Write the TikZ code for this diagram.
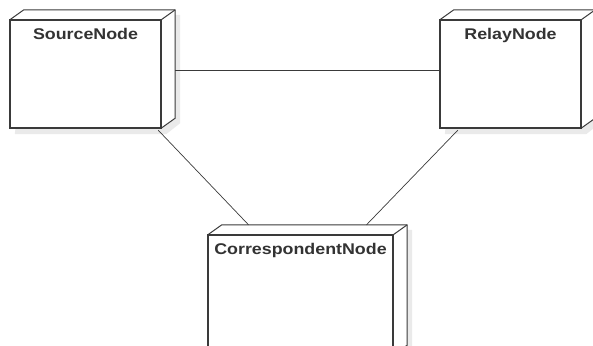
\documentclass[tikz,border=0pt]{standalone}
\usepackage{fontspec}
\usepackage{tikz}
\usetikzlibrary{positioning,calc}
\newfontfamily\umlfont[FakeStretch=1.15]{Liberation Sans}
\definecolor{edgegray}{HTML}{3A3A3A}
\definecolor{shadowgray}{HTML}{EAEAEA}
\definecolor{titlegray}{HTML}{333333}

\tikzset{
  umlbox/.style={draw=edgegray, line width=1.3pt, fill=white, inner sep=0pt},
  umledge/.style={draw=edgegray, line width=1pt, fill=white, line join=round},
  umltitle/.style={anchor=north, inner sep=0pt, yshift=-9pt, text=titlegray,
    font=\umlfont\bfseries\fontsize{15.5}{17}\selectfont},
  wire/.style={draw=edgegray, line width=0.7pt}
}

% 3d side and top of a node, dx=14 dy=10
\newcommand\nodedepth[1]{
  \fill[shadowgray] ($(#1.north west)+(19,5)$) -- ($(#1.north east)+(19,5)$)
    -- ($(#1.south east)+(19,5)$) -- ($(#1.south east)+(5,-6)$)
    -- ($(#1.south west)+(5,-6)$) -- cycle;
  \draw[umledge] (#1.north west) -- ++(14,10) -- ($(#1.north east)+(14,10)$)
    -- ($(#1.south east)+(14,10)$) -- (#1.south east) -- (#1.north east) -- cycle;
  \draw[umledge] (#1.north east) -- ++(14,10);
}

\begin{document}
\begin{tikzpicture}[x=1pt,y=1pt]
    \clip (0,0) rectangle (593,345);

    \coordinate (srcpos) at (85.5,271);
    \coordinate (relaypos) at (510.5,271);
    \coordinate (corrpos) at (300.5,50);

    % shadows and depth first, fronts on top
    \node[minimum width=151pt, minimum height=108pt, inner sep=0pt] (src) at (srcpos) {};
    \node[minimum width=141pt, minimum height=108pt, inner sep=0pt] (relay) at (relaypos) {};
    \node[minimum width=185pt, minimum height=120pt, inner sep=0pt] (corr) at (corrpos) {};
    \nodedepth{src}
    \nodedepth{relay}
    \nodedepth{corr}

    \node[umlbox, minimum width=151pt, minimum height=108pt,
      label={[umltitle]north:SourceNode}] at (srcpos) {};
    \node[umlbox, minimum width=141pt, minimum height=108pt,
      label={[umltitle]north:RelayNode}] at (relaypos) {};
    \node[umlbox, minimum width=185pt, minimum height=120pt,
      label={[umltitle]north:CorrespondentNode}] at (corrpos) {};

    % links
    \draw[wire] ([xshift=14pt,yshift=4pt]src.east) -- ([yshift=4pt]relay.west);
    \draw[wire] ([xshift=-3pt,yshift=-2pt]src.south east) -- ([xshift=-52pt,yshift=10pt]corr.north);
    \draw[wire] ([xshift=18pt,yshift=-2pt]relay.south west) -- ([xshift=66pt,yshift=10pt]corr.north);
\end{tikzpicture}
\end{document}
